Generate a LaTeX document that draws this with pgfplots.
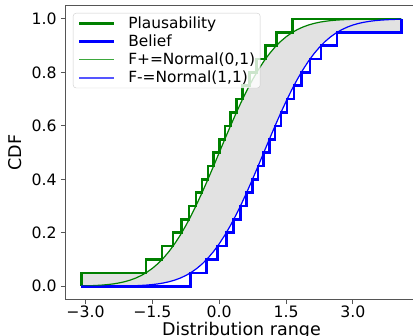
\documentclass[border=0pt]{standalone}
\usepackage{fontspec}
\setmainfont{DejaVu Sans}
\usepackage{pgfplots}
\pgfplotsset{compat=1.18}
\definecolor{mplgreen}{HTML}{008000}
\definecolor{mplblue}{HTML}{0000FF}
\definecolor{fillgray}{HTML}{E2E2E2}
\definecolor{spine}{HTML}{555555}
\definecolor{lightgreenleg}{HTML}{3DA83D}
\definecolor{lightblueleg}{HTML}{5555FF}
\begin{document}
\begin{tikzpicture}
\begin{axis}[
  scale only axis, width=352pt, height=294pt,
  xmin=-3.449, xmax=4.449, ymin=-0.05, ymax=1.05,
  xtick={-3,-1.5,0,1.5,3}, xticklabels={−3.0,−1.5,0.0,1.5,3.0},
  ytick={0,0.2,0.4,0.6,0.8,1.0}, yticklabels={0.0,0.2,0.4,0.6,0.8,1.0},
  tick align=outside, major tick length=4.5pt,
  xtick pos=lower, ytick pos=left,
  tick style={spine, line width=1pt},
  axis line style={spine, line width=1pt},
  ticklabel style={font=\fontsize{15.7}{18}\selectfont},
  xticklabel style={inner ysep=1.5pt},
  yticklabel style={inner xsep=4.3pt},
  xlabel={Distribution range}, ylabel={CDF},
  every axis x label/.style={at={(axis description cs:0.5,-0.0748)}, anchor=north, inner sep=0pt, font=\fontsize{17.5}{20}\selectfont},
  every axis y label/.style={at={(axis description cs:-0.1435,0.5)}, rotate=90, anchor=center, font=\fontsize{17.5}{20}\selectfont},
  legend style={at={(0,1)}, anchor=north west, xshift=7.5pt, yshift=-7.4pt,
    draw=black!20, rounded corners=3pt, fill=white, fill opacity=0.8, text opacity=1,
    font=\fontsize{15.4}{17}\selectfont, inner xsep=5pt, inner ysep=3.5pt,
    row sep=5pt, column sep=12.5pt, nodes={inner sep=0pt}},
  legend cell align=left,
  legend image code/.code={\draw[#1] (0pt,0pt) -- (35pt,0pt);},
]
% shaded area between the bounds
\addplot[fill=fillgray, draw=none, forget plot] coordinates {
(-3.09,0) (-3.09,0.05) (-1.645,0.05)
(-1.625,0.05208) (-1.5,0.06681) (-1.375,0.08459) (-1.25,0.10565) (-1.125,0.13029)
(-1.0,0.15866) (-0.875,0.19079) (-0.75,0.22663) (-0.625,0.26599) (-0.5,0.30854)
(-0.375,0.35383) (-0.25,0.40129) (-0.125,0.45026) (0,0.5) (0.125,0.54974)
(0.25,0.59871) (0.375,0.64617) (0.5,0.69146) (0.625,0.73401) (0.75,0.77337)
(0.875,0.80921) (1.0,0.84134) (1.125,0.86971) (1.25,0.89435) (1.375,0.91541)
(1.5,0.93319) (1.625,0.94792) (1.75,0.95994) (1.875,0.96960) (2.0,0.97725)
(2.125,0.98321) (2.25,0.98778) (2.375,0.99123) (2.5,0.99379) (2.625,0.99567)
(2.75,0.99702) (2.875,0.99798) (3.0,0.99865) (3.25,0.99942) (3.5,0.99977)
(3.75,0.99991) (4.0,0.99997) (4.09,1.0)
(4.09,0.95) (2.645,0.95)
(2.625,0.94792) (2.5,0.93319) (2.375,0.91541) (2.25,0.89435) (2.125,0.86971)
(2.0,0.84134) (1.875,0.80921) (1.75,0.77337) (1.625,0.73401) (1.5,0.69146)
(1.375,0.64617) (1.25,0.59871) (1.125,0.54974) (1.0,0.5) (0.875,0.45026)
(0.75,0.40129) (0.625,0.35383) (0.5,0.30854) (0.375,0.26599) (0.25,0.22663)
(0.125,0.19079) (0,0.15866) (-0.125,0.13029) (-0.25,0.10565) (-0.375,0.08459)
(-0.5,0.06681) (-0.625,0.05208) (-0.75,0.04006) (-0.875,0.03040) (-1.0,0.02275)
(-1.125,0.01679) (-1.25,0.01222) (-1.375,0.00877) (-1.5,0.00621) (-1.625,0.00433)
(-1.75,0.00298) (-1.875,0.00202) (-2.0,0.00135) (-2.25,0.00058) (-2.5,0.00023)
(-2.75,0.00009) (-3.0,0.00003) (-3.09,0.00002)
};
\addplot[mplgreen, line width=2.6pt, const plot] coordinates {
(-3.09,0) (-3.09,0.05) (-1.645,0.10) (-1.282,0.15) (-1.036,0.20) (-0.842,0.25)
(-0.674,0.30) (-0.524,0.35) (-0.385,0.40) (-0.253,0.45) (-0.126,0.50) (0,0.55)
(0.126,0.60) (0.253,0.65) (0.385,0.70) (0.524,0.75) (0.674,0.80) (0.842,0.85)
(1.036,0.90) (1.282,0.95) (1.645,1.0) (4.09,1.0)
};
\addlegendentry{Plausability}
\addplot[mplblue, line width=2.6pt, const plot] coordinates {
(-3.09,0) (-0.645,0.05) (-0.282,0.10) (-0.036,0.15) (0.158,0.20) (0.326,0.25)
(0.476,0.30) (0.615,0.35) (0.747,0.40) (0.874,0.45) (1.0,0.50) (1.126,0.55)
(1.253,0.60) (1.385,0.65) (1.524,0.70) (1.674,0.75) (1.842,0.80) (2.036,0.85)
(2.282,0.90) (2.645,0.95) (4.09,0.95) (4.09,1.0)
};
\addlegendentry{Belief}
\addplot[mplgreen, line width=1.2pt, legend image post style={draw=lightgreenleg, line width=1.6pt}] coordinates {
(-3.09,0.0010) (-3.0,0.00135) (-2.875,0.00202) (-2.75,0.00298) (-2.625,0.00433)
(-2.5,0.00621) (-2.375,0.00877) (-2.25,0.01222) (-2.125,0.01679) (-2.0,0.02275)
(-1.875,0.03040) (-1.75,0.04006) (-1.625,0.05208) (-1.5,0.06681) (-1.375,0.08459)
(-1.25,0.10565) (-1.125,0.13029) (-1.0,0.15866) (-0.875,0.19079) (-0.75,0.22663)
(-0.625,0.26599) (-0.5,0.30854) (-0.375,0.35383) (-0.25,0.40129) (-0.125,0.45026)
(0,0.5) (0.125,0.54974) (0.25,0.59871) (0.375,0.64617) (0.5,0.69146)
(0.625,0.73401) (0.75,0.77337) (0.875,0.80921) (1.0,0.84134) (1.125,0.86971)
(1.25,0.89435) (1.375,0.91541) (1.5,0.93319) (1.625,0.94792) (1.75,0.95994)
(1.875,0.96960) (2.0,0.97725) (2.125,0.98321) (2.25,0.98778) (2.375,0.99123)
(2.5,0.99379) (2.625,0.99567) (2.75,0.99702) (2.875,0.99798) (3.0,0.99865)
(3.25,0.99942) (3.5,0.99977) (3.75,0.99991) (4.0,0.99997) (4.09,0.99998)
};
\addlegendentry{F+=Normal(0,1)}
\addplot[mplblue, line width=1.2pt, legend image post style={draw=lightblueleg, line width=1.6pt}] coordinates {
(-3.09,0.00002) (-3.0,0.00003) (-2.75,0.00009) (-2.5,0.00023) (-2.25,0.00058)
(-2.0,0.00135) (-1.875,0.00202) (-1.75,0.00298) (-1.625,0.00433) (-1.5,0.00621)
(-1.375,0.00877) (-1.25,0.01222) (-1.125,0.01679) (-1.0,0.02275) (-0.875,0.03040)
(-0.75,0.04006) (-0.625,0.05208) (-0.5,0.06681) (-0.375,0.08459) (-0.25,0.10565)
(-0.125,0.13029) (0,0.15866) (0.125,0.19079) (0.25,0.22663) (0.375,0.26599)
(0.5,0.30854) (0.625,0.35383) (0.75,0.40129) (0.875,0.45026) (1.0,0.5)
(1.125,0.54974) (1.25,0.59871) (1.375,0.64617) (1.5,0.69146) (1.625,0.73401)
(1.75,0.77337) (1.875,0.80921) (2.0,0.84134) (2.125,0.86971) (2.25,0.89435)
(2.375,0.91541) (2.5,0.93319) (2.625,0.94792) (2.75,0.95994) (2.875,0.96960)
(3.0,0.97725) (3.125,0.98321) (3.25,0.98778) (3.375,0.99123) (3.5,0.99379)
(3.625,0.99567) (3.75,0.99702) (3.875,0.99798) (4.0,0.99865) (4.09,0.99900)
};
\addlegendentry{F-=Normal(1,1)}
\end{axis}
\pgfresetboundingbox
\useasboundingbox (-65.5pt,-36.4pt) rectangle (347.5pt,299.6pt);
\end{tikzpicture}
\end{document}
